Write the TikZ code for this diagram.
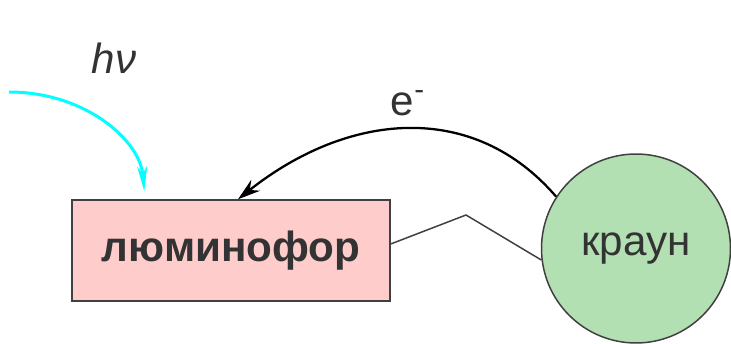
\documentclass[tikz,border=0pt]{standalone}
\usepackage{fontspec}
\setmainfont{Liberation Sans}
\usetikzlibrary{arrows.meta}
\definecolor{phosphorfill}{HTML}{FFCCCC}
\definecolor{crownfill}{HTML}{B3E0B3}
\definecolor{textgray}{HTML}{333333}
\definecolor{edgegray}{HTML}{404040}
\definecolor{photoncyan}{HTML}{00FFFF}

\begin{document}
\begin{tikzpicture}[
    x=0.02cm, y=-0.02cm,
    every node/.style={
        text=textgray,
        font=\fontsize{24}{28}\selectfont
    },
    >={Stealth[length=0.5cm,width=0.2cm,inset=0.15cm]}
]
\useasboundingbox (0,0) rectangle (731,344);

% Phosphor
\node (phosphor) at (231,250.5)
[draw=edgegray, line width=0.85pt, fill=phosphorfill,
 minimum width=6.36cm, minimum height=2.02cm]
{\bfseries люминофор};

% Crown ether
\node (crown) at (636,248.5)
[circle, draw=edgegray, line width=0.85pt, fill=crownfill,
 minimum size=3.78cm, inner sep=0pt]
{краун};

% Labels
\node (hv) at (114,58) {\itshape hν};
\node (electron) at (408,103) {e\textsuperscript{-}};

% Connections
\coordinate (light) at (9,92);
\coordinate (kink) at (466,215);

\draw[->,photoncyan,line width=1.7pt]
    (light) .. controls (85,92) and (140,140) .. ([xshift=1.46cm,yshift=0.16cm]phosphor.north west);

\draw[-{Stealth[length=0.45cm,width=0.28cm,inset=0.15cm]},black,line width=1.3pt]
    (crown.147) .. controls (473,100) and (348,112) .. ([xshift=0.14cm]phosphor.north);

\draw[edgegray,line width=0.85pt]
    ([yshift=0.13cm]phosphor.east) -- (kink) -- (crown.187);

\end{tikzpicture}
\end{document}
